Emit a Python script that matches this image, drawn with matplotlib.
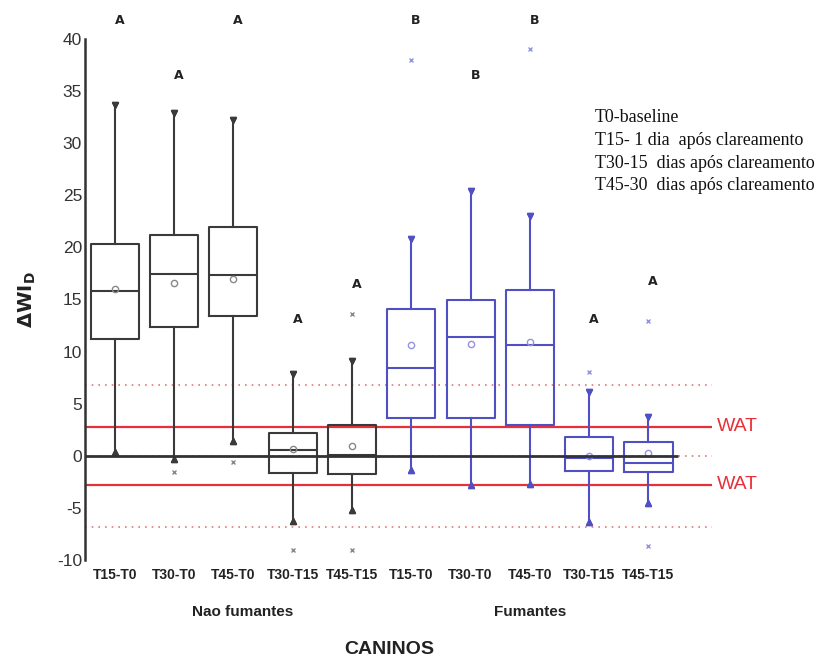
import numpy as np
import matplotlib
matplotlib.use("Agg")
import matplotlib.pyplot as plt

# ---- dados ----
labels = ['T15-T0', 'T30-T0', 'T45-T0', 'T30-T15', 'T45-T15']

nao_whishi = [33.7, 32.9, 32.2, 7.8, 9.1]
nao_q3 = [20.3, 21.2, 22.0, 2.2, 2.9]
nao_med = [15.8, 17.4, 17.3, 0.5, 0.1]
nao_mean = [16.0, 16.6, 17.0, 0.6, 0.9]
nao_q1 = [11.2, 12.4, 13.4, -1.7, -1.8]
nao_whislo = [0.4, -0.3, 1.4, -6.3, -5.2]
nao_fliers = [[], [-1.6], [-0.6], [-9.1], [13.6, -9.1]]

fum_whishi = [20.8, 25.4, 23.0, 6.1, 3.7]
fum_q3 = [14.1, 14.9, 15.9, 1.8, 1.3]
fum_med = [8.4, 11.4, 10.6, -0.2, -0.7]
fum_mean = [10.6, 10.7, 10.9, 0.0, 0.3]
fum_q1 = [3.6, 3.6, 2.9, -1.5, -1.6]
fum_whislo = [-1.4, -2.8, -2.7, -6.4, -4.5]
fum_fliers = [[38.0], [], [39.0], [8.0], [12.9, -8.7]]

letters = ['A', 'A', 'A', 'A', 'A', 'B', 'B', 'B', 'A', 'A']
letter_y = [41.8, 36.5, 41.8, 13.1, 16.4, 41.8, 36.5, 41.8, 13.1, 16.7]

wat = 2.8
limite = 6.8

legenda = ['T0-baseline',
           'T15- 1 dia  após clareamento',
           'T30-15  dias após clareamento',
           'T45-30  dias após clareamento']


def make_stats(q1, med, q3, lo, hi, mean, fliers):
    stats = []
    for i in range(len(q1)):
        stats.append(dict(q1=q1[i], med=med[i], q3=q3[i], whislo=lo[i],
                          whishi=hi[i], mean=mean[i], fliers=fliers[i]))
    return stats


fig = plt.figure(figsize=(8.24, 6.61), dpi=100)
ax = fig.add_axes([0.103, 0.153, 0.761, 0.788])

cor_nao = '#3a3a3a'
cor_fum = '#5050c4'

grupos = [
    (make_stats(nao_q1, nao_med, nao_q3, nao_whislo, nao_whishi, nao_mean, nao_fliers),
     np.arange(1, 6), cor_nao, '#888888'),
    (make_stats(fum_q1, fum_med, fum_q3, fum_whislo, fum_whishi, fum_mean, fum_fliers),
     np.arange(6, 11), cor_fum, '#9494dc'),
]

# linhas de referencia
ax.axhline(0, color='#e07a7a', lw=1.2, ls=(0, (1, 3)), zorder=1)
ax.axhline(limite, color='#e07a7a', lw=1.2, ls=(0, (1, 3)), zorder=1)
ax.axhline(-limite, color='#e07a7a', lw=1.2, ls=(0, (1, 3)), zorder=1)
ax.axhline(wat, color='#e8303a', lw=1.6, zorder=1)
ax.axhline(-wat, color='#e8303a', lw=1.6, zorder=1)
ax.hlines(0, 0.494, 10.5, color='#333333', lw=2.0, zorder=4)

for stats, pos, cor, cor_mean in grupos:
    bp = ax.bxp(stats, positions=pos, widths=0.81, showmeans=True,
                capwidths=0.0, patch_artist=False,
                boxprops=dict(color=cor, lw=1.5),
                whiskerprops=dict(color=cor, lw=1.5),
                capprops=dict(color=cor, lw=1.5),
                medianprops=dict(color=cor, lw=1.5),
                meanprops=dict(marker='o', markerfacecolor='none',
                               markeredgecolor=cor_mean, markersize=4.5, mew=1.0),
                flierprops=dict(marker='x', markeredgecolor=cor_mean, markersize=3.5, mew=1.0))
    for k, cap in enumerate(bp['caps']):
        cap.set_marker('^' if k % 2 == 0 else 'v')
        cap.set_markersize(3.8)
        cap.set_markerfacecolor(cor)
        cap.set_markeredgecolor(cor)

todas_pos = np.arange(1, 11)
for x, y, t in zip(todas_pos, letter_y, letters):
    ax.text(x + 0.08, y, t, ha='center', va='center', fontsize=9,
            fontweight='bold', color='#222222', clip_on=False)

ax.set_xlim(0.494, 11.07)
ax.set_ylim(-10, 40)
ax.set_yticks(np.arange(-10, 41, 5))
ax.set_yticklabels([str(v) for v in range(-10, 41, 5)], fontsize=12.5,
                   family='Liberation Sans', color='#333333')
ax.set_xticks(todas_pos)
ax.set_xticklabels(labels * 2, fontsize=10, fontweight='bold',
                   family='Liberation Sans', color='#222222')
ax.tick_params(length=0, pad=2)
ax.tick_params(axis='x', pad=6)
for s in ['top', 'right', 'bottom']:
    ax.spines[s].set_visible(False)
ax.spines['left'].set_color('#333333')
ax.spines['left'].set_linewidth(1.8)

ax.set_ylabel(r'$\mathbf{\Delta WI_D}$', fontsize=14, color='#222222')
ax.yaxis.set_label_coords(-0.075, 0.5)

for y, t in [(wat, 'WAT'), (-wat, 'WAT')]:
    ax.text(11.15, y, t, color='#e8303a', fontsize=14, va='center', ha='left',
            family='Liberation Sans', clip_on=False)

fig.text(243 / 824, 1 - 612 / 661, 'Nao fumantes', ha='center', va='center',
         fontsize=11, fontweight='bold', family='Liberation Sans', color='#222222')
fig.text(530 / 824, 1 - 612 / 661, 'Fumantes', ha='center', va='center',
         fontsize=11, fontweight='bold', family='Liberation Sans', color='#222222')
fig.text(389 / 824, 1 - 650 / 661, 'CANINOS', ha='center', va='center',
         fontsize=14, fontweight='bold', family='Liberation Sans', color='#222222')

for i, t in enumerate(legenda):
    fig.text(595 / 824, 1 - (118 + 22.6 * i) / 661, t, ha='left', va='center',
             fontsize=12.9, family='Liberation Serif', color='#111111')

fig.savefig('out.png', dpi=100)
